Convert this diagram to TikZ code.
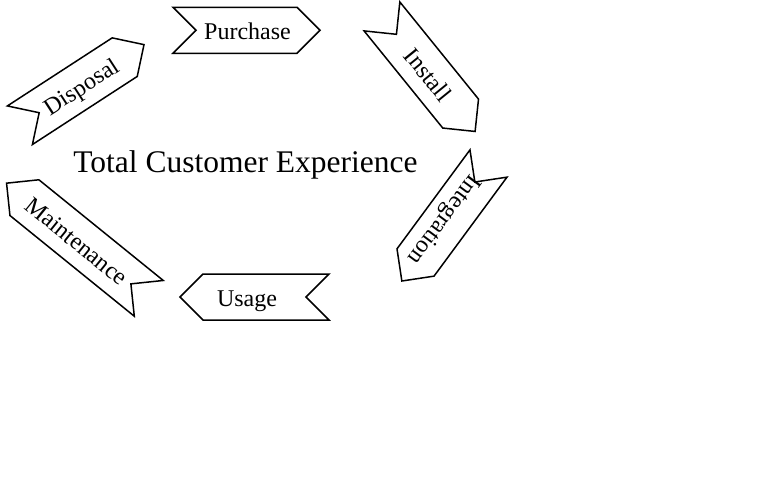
\documentclass[tikz,border=0pt]{standalone}
\usepackage{fontspec}
\setmainfont{Liberation Serif}
\usepackage{tikz}
\tikzset{
  chevbox/.style={draw,line width=1.5pt,fill=white,line join=miter},
  lbl/.style={font=\fontsize{24}{27}\selectfont,inner sep=0pt,text height=18pt,text depth=0pt},
  title/.style={font=\fontsize{31.5}{35}\selectfont,inner sep=0pt},
}
% #1 centre, #2 direction, #3 body length, #4 text angle, #5 text shift, #6 label
\newcommand{\chevron}[6]{%
  \begin{scope}[shift={#1},rotate=#2]
  \draw[chevbox](-#3/2,23)--(#3/2,23)--(#3/2+23,0)--(#3/2,-23)
    --(-#3/2,-23)--(-#3/2+23,0)--cycle;
  \node[lbl,rotate=#4](#6) at (#5,0) {#6};
  \end{scope}}
\begin{document}
\begin{tikzpicture}[x=1pt,y=1pt]
\useasboundingbox[fill=white](0,0)rectangle(768,480);
\chevron{(235,449.7)}{0}{124}{0}{12.5}{Purchase}
\chevron{(421.3,415)}{-51}{125}{-51}{12}{Install}
\chevron{(452,267)}{-126.4}{123}{-126.4}{10}{Integration}
\chevron{(266,183)}{180}{126}{0}{19}{Usage}
\chevron{(86.6,232)}{141}{160}{-39}{12}{Maintenance}
\chevron{(72.3,388.8)}{33}{125}{33}{10}{Disposal}
\node[title](title) at (245.5,315){Total Customer Experience};
\end{tikzpicture}
\end{document}
